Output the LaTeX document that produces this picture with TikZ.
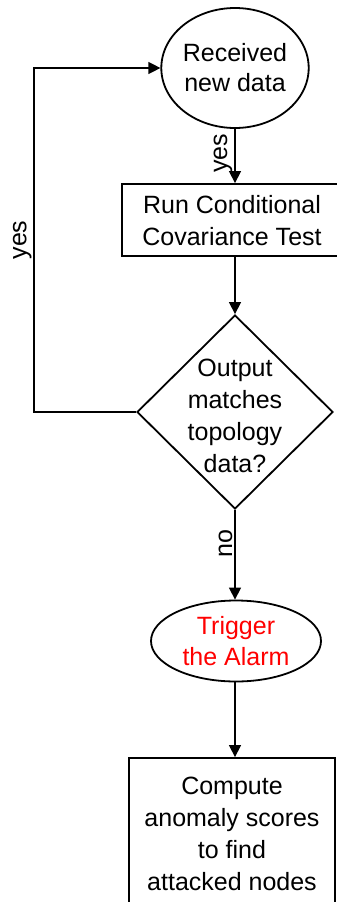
\documentclass[tikz,border=0pt]{standalone}
\usepackage{fontspec}
\setmainfont{Liberation Sans}
\usetikzlibrary{shapes.geometric,arrows.meta}
\begin{document}
\begin{tikzpicture}[x=1pt,y=-1pt,
  every node/.style={font=\fontsize{25}{32}\selectfont, inner sep=0pt, align=center},
  shp/.style={draw, line width=1.8pt},
  arr/.style={line width=1.3pt, -{Triangle[length=12pt,width=12pt]}},
  lbl/.style={rotate=90, anchor=south, inner sep=2pt}]
\useasboundingbox (0,0) rectangle (337,902);
\begin{scope}
\clip (0,0) rectangle (337,902);
\node[shp, ellipse, minimum width=141pt, minimum height=120pt, font=\fontsize{25}{30}\selectfont] (rec) at (235,68) {Received\\new data};
\node[shp, rectangle, minimum width=240pt, minimum height=72pt] (run) at (242,220) {};
\node (runtxt) at (232,221) {Run Conditional\\Covariance Test};
\node[shp, diamond, minimum width=196pt, minimum height=194pt, inner sep=0pt] (dec) at (235,412) {};
\node (dectxt) at (235,416) {Output\\matches\\topology\\data?};
\node[shp, ellipse, minimum width=170pt, minimum height=81pt, text=red, font=\fontsize{25}{31}\selectfont] (trig) at (236,641) {Trigger\\the Alarm};
\node[shp, rectangle, minimum width=206pt, minimum height=152pt] (comp) at (232,834) {Compute\\anomaly scores\\to find\\attacked nodes};
\draw[arr] (rec.south) -- node[lbl, pos=0.45] {yes} (rec.south |- run.north);
\draw[arr] (rec.south |- run.south) -- (dec.north);
\draw[arr] (dec.south) -- node[lbl, pos=0.37] {no} (dec.south |- trig.north);
\draw[arr] (dec.south |- trig.south) -- (dec.south |- comp.north);
\draw[arr] (dec.west) -- ++(-102pt,0) coordinate (c1) |- node[lbl, pos=0.25] {yes} (rec.west);
\end{scope}
\end{tikzpicture}
\end{document}
